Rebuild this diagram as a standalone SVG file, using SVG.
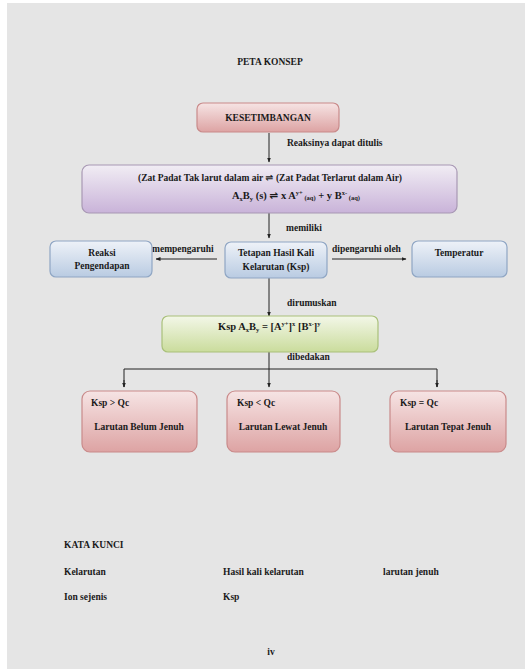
<svg xmlns="http://www.w3.org/2000/svg" width="525" height="669" viewBox="0 0 525 669">
<defs>
<linearGradient id="gRed" x1="0" y1="0" x2="0" y2="1">
<stop offset="0" stop-color="#f6e4e4"/><stop offset="1" stop-color="#dda3a3"/>
</linearGradient>
<linearGradient id="gPurple" x1="0" y1="0" x2="0" y2="1">
<stop offset="0" stop-color="#f1edf4"/><stop offset="1" stop-color="#c9b3d9"/>
</linearGradient>
<linearGradient id="gBlue" x1="0" y1="0" x2="0" y2="1">
<stop offset="0" stop-color="#eef2f8"/><stop offset="1" stop-color="#b9cbe2"/>
</linearGradient>
<linearGradient id="gGreen" x1="0" y1="0" x2="0" y2="1">
<stop offset="0" stop-color="#f3f7e8"/><stop offset="1" stop-color="#cadc9c"/>
</linearGradient>
<marker id="arr" viewBox="0 0 10 10" refX="9" refY="5" markerWidth="5" markerHeight="5" orient="auto" markerUnits="userSpaceOnUse">
<path d="M0,1 L10,5 L0,9 z" fill="#222"/>
</marker>
<style>
text{font-family:"Liberation Serif","Times New Roman",serif;font-weight:bold;font-size:9.5px;fill:#1a1a1a}
.c{text-anchor:middle}
.f{font-size:10.5px}
.red{fill:url(#gRed);stroke:#c98a8a;stroke-width:1.2}
.pur{fill:url(#gPurple);stroke:#a898b4;stroke-width:1.2}
.blu{fill:url(#gBlue);stroke:#8fa6c4;stroke-width:1.2}
.grn{fill:url(#gGreen);stroke:#a9c07a;stroke-width:1.2}
.ln{stroke:#222;stroke-width:1;fill:none}
.sm{font-size:6.5px}
</style>
</defs>
<rect x="0" y="0" width="525" height="669" fill="#ffffff"/>
<rect x="7" y="3" width="518" height="666" fill="#e5e5e5"/>

<text id="title" class="c" x="270" y="65">PETA KONSEP</text>

<g id="connectors">
<line class="ln" x1="269" y1="133" x2="269" y2="162" marker-end="url(#arr)"/>
<line class="ln" x1="269" y1="213" x2="269" y2="238" marker-end="url(#arr)"/>
<line class="ln" x1="217" y1="259" x2="156" y2="259" marker-end="url(#arr)"/>
<line class="ln" x1="332" y1="259" x2="406" y2="259" marker-end="url(#arr)"/>
<line class="ln" x1="269" y1="278" x2="269" y2="316" marker-end="url(#arr)"/>
<line class="ln" x1="269" y1="352" x2="269" y2="387" marker-end="url(#arr)"/>
<polyline class="ln" points="124,387 124,369 437,369 437,387"/>
<line class="ln" x1="124" y1="380" x2="124" y2="387" marker-end="url(#arr)"/>
<line class="ln" x1="437" y1="380" x2="437" y2="387" marker-end="url(#arr)"/>
<text x="287" y="146">Reaksinya dapat ditulis</text>
<text x="286" y="231">memiliki</text>
<text x="152" y="252">mempengaruhi</text>
<text x="332" y="252">dipengaruhi oleh</text>
<text x="287" y="306">dirumuskan</text>
<text x="287" y="360">dibedakan</text>
</g>

<g id="kesetimbangan">
<rect class="red" x="197" y="103" width="142" height="29" rx="6"/>
<text class="c" x="268" y="121">KESETIMBANGAN</text>
</g>

<g id="reaksi-box">
<rect class="pur" x="82" y="165" width="375" height="48" rx="7"/>
<text class="c" x="270" y="181">(Zat Padat Tak larut dalam air  <tspan font-family="DejaVu Sans">⇌</tspan> (Zat Padat Terlarut dalam Air)</text>
<text class="f" x="232" y="199">A<tspan class="sm" dy="2">x</tspan><tspan dy="-2">B</tspan><tspan class="sm" dy="2">y</tspan><tspan dy="-2"> (s) </tspan><tspan font-family="DejaVu Sans">⇌</tspan> x A<tspan class="sm" dy="-4">y+</tspan><tspan class="sm" dy="5">  (aq)</tspan><tspan dy="-1"> + y B</tspan><tspan class="sm" dy="-4">x-</tspan><tspan class="sm" dy="5">  (aq)</tspan></text>
</g>

<g id="reaksi-pengendapan">
<rect class="blu" x="50" y="241" width="102" height="36" rx="6"/>
<text class="c" x="102" y="256">Reaksi</text>
<text class="c" x="102" y="269">Pengendapan</text>
</g>

<g id="ksp">
<rect class="blu" x="225" y="242" width="102" height="36" rx="6"/>
<text class="c" x="276" y="256">Tetapan Hasil Kali</text>
<text class="c" x="276" y="270">Kelarutan (Ksp)</text>
</g>

<g id="temperatur">
<rect class="blu" x="412" y="241" width="95" height="36" rx="6"/>
<text class="c" x="459" y="256">Temperatur</text>
</g>

<g id="rumus">
<rect class="grn" x="162" y="316" width="216" height="36" rx="6"/>
<text class="f" x="218" y="330">Ksp A<tspan class="sm" dy="2">x</tspan><tspan dy="-2">B</tspan><tspan class="sm" dy="2">y</tspan><tspan dy="-2"> = [A</tspan><tspan class="sm" dy="-4">y+</tspan><tspan dy="4">]</tspan><tspan class="sm" dy="-4">x</tspan><tspan dy="4"> [B</tspan><tspan class="sm" dy="-4">x-</tspan><tspan dy="4">]</tspan><tspan class="sm" dy="-4">y</tspan></text>
</g>

<g id="belum-jenuh">
<rect class="red" x="82" y="391" width="115" height="61" rx="8"/>
<text x="91" y="406">Ksp &gt; Qc</text>
<text class="c" x="139" y="430">Larutan Belum Jenuh</text>
</g>

<g id="lewat-jenuh">
<rect class="red" x="227" y="391" width="113" height="61" rx="8"/>
<text x="237" y="406">Ksp &lt; Qc</text>
<text class="c" x="283" y="430">Larutan Lewat Jenuh</text>
</g>

<g id="tepat-jenuh">
<rect class="red" x="390" y="391" width="116" height="61" rx="8"/>
<text x="400" y="406">Ksp =  Qc</text>
<text class="c" x="448" y="430">Larutan Tepat Jenuh</text>
</g>

<g id="kata-kunci">
<text x="64" y="548">KATA KUNCI</text>
<text x="64" y="575">Kelarutan</text>
<text x="223" y="575">Hasil kali kelarutan</text>
<text x="383" y="575">larutan jenuh</text>
<text x="64" y="600">Ion sejenis</text>
<text x="223" y="600">Ksp</text>
<text class="c" x="271" y="655">iv</text>
</g>
</svg>
